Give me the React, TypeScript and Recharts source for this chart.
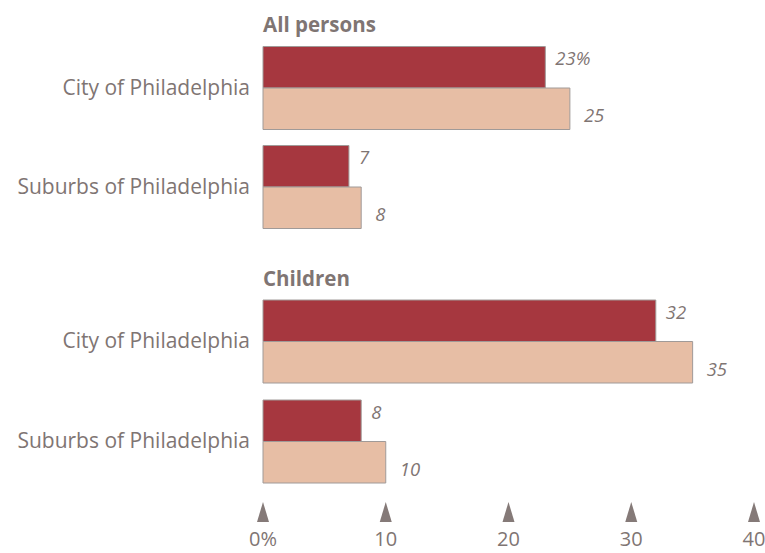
import React from "react";
import { BarChart, Bar, XAxis, YAxis, LabelList } from "recharts";

const categories = ["City of Philadelphia", "Suburbs of Philadelphia"];
const groupTitles = ["All persons", "Children"];
const allPersonsA = [23, 7];
const allPersonsB = [25, 8];
const childrenA = [32, 8];
const childrenB = [35, 10];
const xTicks = [0, 10, 20, 30, 40];

const DARK = "#a6373f";
const LIGHT = "#e7bea5";
const TEXT = "#7f7573";
const FONT = "'Open Sans', 'Noto Sans', sans-serif";

function buildRows(a: number[], b: number[]) {
  return categories.map((name, i) => ({ name, a: a[i], b: b[i] }));
}

const firstRows = buildRows(allPersonsA, allPersonsB);
const secondRows = buildRows(childrenA, childrenB);

function makeLabel(kind: "a" | "b", withPercent: boolean) {
  return (props: any) => {
    const { x, y, width, height, value, index } = props;
    const tx = Number(x) + Number(width) + (kind === "a" ? 10 : 14);
    const ty = kind === "a" ? Number(y) + 11 : Number(y) + Number(height) / 2 + 6;
    const text = withPercent && index === 0 ? `${value}%` : `${value}`;
    return (
      <text
        x={tx}
        y={ty}
        dominantBaseline="central"
        fill={TEXT}
        fontSize={18.5}
        fontStyle="italic"
        fontFamily={FONT}
      >
        {text}
      </text>
    );
  };
}

const TriangleTick = (props: any) => {
  const { x, y, payload } = props;
  return (
    <g>
      <path d={`M${x - 6},${y + 31} L${x + 6},${y + 31} L${x},${y + 11} Z`} fill="#857a78" />
      <text x={x} y={y + 55} textAnchor="middle" fill={TEXT} fontSize={20} fontFamily={FONT}>
        {payload.value === 0 ? "0%" : payload.value}
      </text>
    </g>
  );
};

const yTick = { fontSize: 21, fill: TEXT, fontFamily: FONT };

function GroupChart({
  rows,
  height,
  margin,
  withPercent,
  showAxis,
}: {
  rows: { name: string; a: number; b: number }[];
  height: number;
  margin: { top: number; right: number; bottom: number; left: number };
  withPercent: boolean;
  showAxis: boolean;
}) {
  return (
    <BarChart
      width={765}
      height={height}
      data={rows}
      layout="vertical"
      margin={margin}
      barGap={0}
      barSize={41.5}
    >
      <XAxis
        type="number"
        domain={[0, 40]}
        ticks={xTicks}
        hide={!showAxis}
        axisLine={false}
        tickLine={false}
        tickSize={0}
        tickMargin={0}
        height={62}
        tick={<TriangleTick />}
        interval={0}
      />
      <YAxis
        type="category"
        dataKey="name"
        width={263}
        axisLine={false}
        tickLine={false}
        tickSize={0}
        tickMargin={13}
        tick={yTick}
      />
      <Bar dataKey="a" fill={DARK} stroke="#a09a98" strokeWidth={1} isAnimationActive={false}>
        <LabelList dataKey="a" content={makeLabel("a", withPercent)} />
      </Bar>
      <Bar dataKey="b" fill={LIGHT} stroke="#a09a98" strokeWidth={1} isAnimationActive={false}>
        <LabelList dataKey="b" content={makeLabel("b", false)} />
      </Bar>
    </BarChart>
  );
}

const headingStyle: React.CSSProperties = {
  position: "absolute",
  left: 263,
  fontFamily: FONT,
  fontWeight: 700,
  fontSize: 20.5,
  color: TEXT,
  lineHeight: "24px",
};

export default function App() {
  return (
    <div
      style={{
        position: "absolute",
        left: 0,
        top: 0,
        width: 765,
        height: 553,
        background: "#fff",
        overflow: "hidden",
      }}
    >
      <div style={{ position: "absolute", left: 0, top: 0 }}>
        <GroupChart
          rows={firstRows}
          height={250}
          margin={{ top: 38.5, right: 11, bottom: 13.5, left: 0 }}
          withPercent={true}
          showAxis={false}
        />
      </div>
      <div style={{ position: "absolute", left: 0, top: 260 }}>
        <GroupChart
          rows={secondRows}
          height={293}
          margin={{ top: 31, right: 11, bottom: 0, left: 0 }}
          withPercent={false}
          showAxis={true}
        />
      </div>
      <div style={{ ...headingStyle, top: 12 }}>{groupTitles[0]}</div>
      <div style={{ ...headingStyle, top: 266 }}>{groupTitles[1]}</div>
    </div>
  );
}
